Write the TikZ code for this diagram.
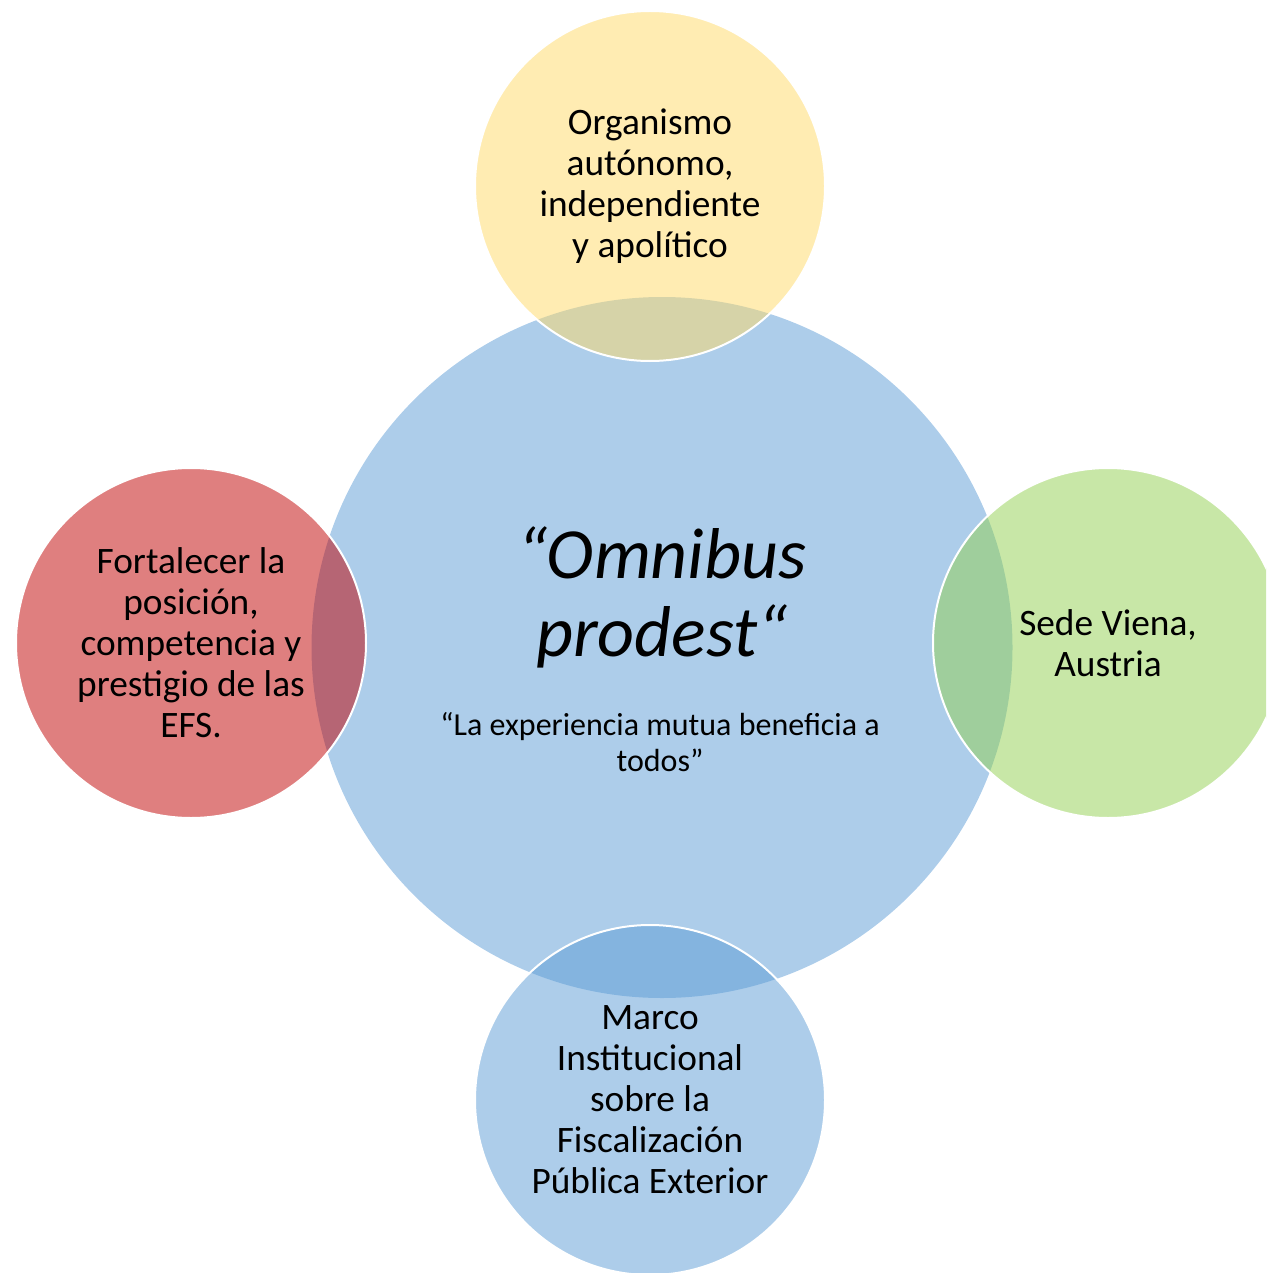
\documentclass[tikz,border=0pt]{standalone}
\usepackage{fontspec}
\setmainfont{Carlito}
\definecolor{bluec}{HTML}{5B9BD5}
\definecolor{yelc}{HTML}{FFD966}
\definecolor{redc}{HTML}{C00000}
\definecolor{grnc}{HTML}{92D050}
\begin{document}
\begin{tikzpicture}[x=0.75pt,y=-0.75pt,
  bigcirc/.style={circle, minimum size=525.75pt, inner sep=0pt, fill=bluec, fill opacity=0.5},
  sat/.style={circle, minimum size=262.5pt, inner sep=0pt, draw=white, line width=1.5pt,
    fill opacity=0.5, text opacity=1, align=center,
    font=\fontsize{28}{30.75}\selectfont},
  title/.style={align=center, font=\fontsize{54}{58.5}\selectfont\itshape},
  subtitle/.style={align=center, font=\fontsize{24}{27}\selectfont}]
\useasboundingbox (0,0) rectangle (1266,1273);
\clip (0,0) rectangle (1266,1273);
\node[bigcirc] (center) at (662,647.5) {};
\node[sat, fill=yelc] (top) at (650,186) {Organismo\\autónomo,\\independiente\\y apolítico};
\node[sat, fill=redc] (left) at (191,643) {Fortalecer la\\posición,\\competencia y\\prestigio de las\\EFS.};
\node[sat, fill=grnc] (right) at (1108,643) {Sede Viena,\\Austria};
\node[sat, fill=bluec] (bottom) at (650,1100) {Marco\\Institucional\\sobre la\\Fiscalización\\Pública Exterior};
\node[title] (motto) at (662,597) {“Omnibus\\prodest“};
\node[subtitle] (trans) at (660,742) {“La experiencia mutua beneficia a\\todos”};
\end{tikzpicture}
\end{document}
